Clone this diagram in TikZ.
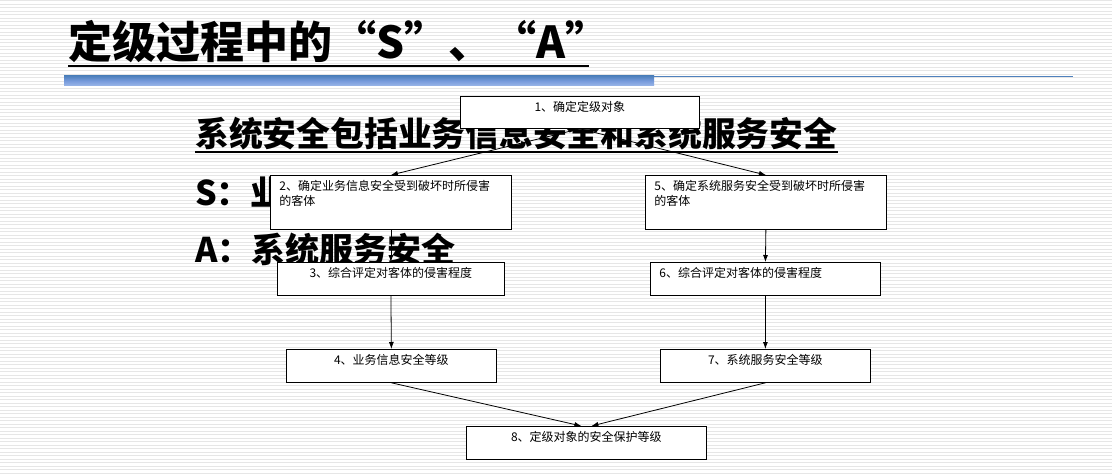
\documentclass[tikz,border=0pt]{standalone}
\usepackage{fontspec}
\newfontfamily\cjk{Noto Sans CJK SC}
\usetikzlibrary{arrows.meta}
\pgfdeclarelayer{bg}
\pgfdeclarelayer{links}
\pgfdeclarelayer{words}
\pgfsetlayers{bg,links,words,main}
\definecolor{rulebar}{RGB}{79,129,189}
\definecolor{barmid}{RGB}{120,155,220}
\definecolor{barlow}{RGB}{155,183,232}
\definecolor{stripe}{RGB}{230,230,230}
\begin{document}
\begin{tikzpicture}[x=1pt,y=-1pt,
  box/.style={draw, fill=white, line width=0.8pt, inner xsep=9pt, inner ysep=5pt,
    anchor=north west, font=\cjk\fontsize{12}{15}\selectfont},
  link/.style={line width=0.8pt, -{Latex[length=7pt,width=5pt]}},
  heading/.style={anchor=base west, inner sep=0pt, font=\cjk\bfseries\fontsize{44}{50}\selectfont},
  subhead/.style={anchor=base west, inner sep=0pt, font=\cjk\bfseries\fontsize{33.8}{40}\selectfont},
  lead/.style={anchor=base west, inner sep=0pt, font=\cjk\bfseries\fontsize{34}{40}\selectfont}]
\useasboundingbox (0,0) rectangle (1112,476);

% striped page background
\begin{pgfonlayer}{bg}
  \fill[white] (0,0) rectangle (1112,476);
  \foreach \k in {0,...,136}
    \draw[stripe, line width=1pt] (0,{0.8+3.5*\k}) -- (1112,{0.8+3.5*\k});
  % blue rule under the title
  \shade[top color=rulebar, bottom color=barlow, middle color=barmid]
    (64,76) rectangle (654,86);
  \draw[rulebar, line width=1.5pt] (654,76.5) -- (1073,76.5);
\end{pgfonlayer}

% title
\node[heading] (title) at (68,59) {定级过程中的“S”、“A”};
\draw[line width=2pt] ([yshift=-7pt]title.base west) -- ([xshift=-21pt,yshift=-7pt]title.base east);

% body text lines
\begin{pgfonlayer}{words}
  \node[subhead] (sub) at (195,147) {系统安全包括业务信息安全和系统服务安全};
  \draw[line width=2pt] ([yshift=-5pt]sub.base west) -- ([yshift=-5pt]sub.base east);
  \node[lead] (sline) at (195,205) {S：业务信息安全};
  \node[lead] (aline) at (195,262) {A：系统服务安全};
\end{pgfonlayer}

% flow boxes
\node[box] (b1) at (460,96)  {\parbox[c][22pt][t]{221pt}{\centering\strut 1、确定定级对象}};
\node[box] (b2) at (270,175) {\parbox[c][44pt][t]{223pt}{\raggedright\strut 2、确定业务信息安全受到破坏时所侵害\\的客体}};
\node[box] (b5) at (645,175) {\parbox[c][44pt][t]{223pt}{\raggedright\strut 5、确定系统服务安全受到破坏时所侵害\\的客体}};
\node[box] (b3) at (277,262) {\parbox[c][23pt][t]{209pt}{\centering\strut 3、综合评定对客体的侵害程度}};
\node[box] (b6) at (650,262) {\parbox[c][23pt][t]{212pt}{\raggedright\strut 6、综合评定对客体的侵害程度}};
\node[box] (b4) at (286,349) {\parbox[c][23pt][t]{192pt}{\centering\strut 4、业务信息安全等级}};
\node[box] (b7) at (660,349) {\parbox[c][23pt][t]{192pt}{\centering\strut 7、系统服务安全等级}};
\node[box] (b8) at (466,426) {\parbox[c][23pt][t]{222pt}{\centering\strut 8、定级对象的安全保护等级}};

\coordinate (in8l) at ([xshift=-5pt]b8.north);
\coordinate (in8r) at ([xshift=5pt]b8.north);

% connectors
\begin{pgfonlayer}{links}
  \draw[link] (b1.south) -- (b2.north);
  \draw[link] (b1.south) -- (b5.north);
  \draw[link] (b2.south) -- (b3.north);
  \draw[link] (b5.south) -- (b6.north);
  \draw[link] (b3.south) -- (b4.north);
  \draw[link] (b6.south) -- (b7.north);
  \draw[link] (b4.south) -- (in8l);
  \draw[link] (b7.south) -- (in8r);
\end{pgfonlayer}
\end{tikzpicture}
\end{document}
